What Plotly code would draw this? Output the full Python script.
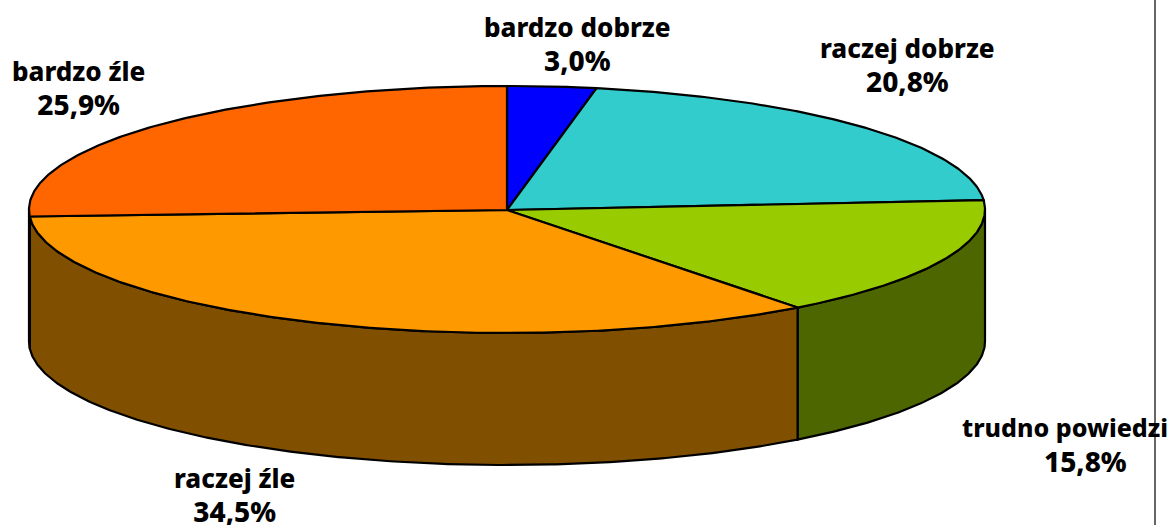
import math
import plotly.graph_objects as go

# data
categories = ["bardzo dobrze", "raczej dobrze", "trudno powiedzi", "raczej źle", "bardzo źle"]
values = [3.0, 20.8, 15.8, 34.5, 25.9]
top_colors = ["#0000FF", "#33CCCC", "#99CC00", "#FF9900", "#FF6600"]
side_colors = ["#000080", "#1A6666", "#4D6600", "#804F00", "#803300"]

# label block centres (x, y); None means name and value are placed separately
label_pos = [(577, 43.5), (907, 64.5), None, (234.5, 495), (78.5, 88)]
split_name_pos = (960, 427)
split_value_pos = (1085, 461)

# pie geometry (in pixels of the axes)
CX, CY, A, B, DEPTH = 507, 209.5, 478, 123.5, 132
W, H = 1172, 525
FRAME_X = 1155


def pt(deg, dy=0.0):
    r = math.radians(deg)
    return CX + A * math.sin(r), CY - B * math.cos(r) + dy


def arc(a0, a1, dy=0.0):
    n = max(2, int(abs(a1 - a0) * 2) + 1)
    return [pt(a0 + (a1 - a0) * i / (n - 1), dy) for i in range(n)]


fig = go.Figure()


def poly(points, fill):
    xs = [p[0] for p in points] + [points[0][0]]
    ys = [p[1] for p in points] + [points[0][1]]
    fig.add_trace(go.Scatter(x=xs, y=ys, mode="lines", fill="toself", fillcolor=fill,
                             line=dict(color="#000000", width=2.2), hoverinfo="skip", showlegend=False))


total = sum(values)
spans = []
start = 0.0
for v in values:
    end = start + v / total * 360
    spans.append((start, end))
    start = end

# visible outer wall: only the front half of the ellipse (90..270 degrees)
for (a0, a1), col in zip(spans, side_colors):
    lo, hi = max(a0, 90), min(a1, 270)
    if hi > lo:
        poly(arc(lo, hi) + arc(hi, lo, DEPTH), col)

# top faces
for (a0, a1), col in zip(spans, top_colors):
    poly([(CX, CY + 0.5)] + arc(a0, a1), col)


def font(size):
    return dict(family="Noto Sans", size=size, color="#000000", weight=800)


annotations = []
for name, v, pos in zip(categories, values, label_pos):
    pct = f"{v:.1f}%".replace(".", ",")
    if pos is None:
        annotations.append(dict(x=split_name_pos[0], y=split_name_pos[1], text=name, xanchor="left",
                                yanchor="middle", showarrow=False, xref="x", yref="y", font=font(25)))
        annotations.append(dict(x=split_value_pos[0], y=split_value_pos[1], text=pct, xanchor="center",
                                yanchor="middle", showarrow=False, xref="x", yref="y", font=font(28)))
    else:
        annotations.append(dict(x=pos[0], y=pos[1], text=f'{name}<br><span style="font-size:28px">{pct}</span>',
                                xanchor="center", yanchor="middle", align="center", showarrow=False,
                                xref="x", yref="y", font=font(26)))

fig.update_layout(
    width=W, height=H, margin=dict(l=0, r=0, t=0, b=0), autosize=False,
    paper_bgcolor="#FFFFFF", plot_bgcolor="#FFFFFF", showlegend=False,
    xaxis=dict(range=[0, W], visible=False, fixedrange=True),
    yaxis=dict(range=[H, 0], visible=False, fixedrange=True),
    annotations=annotations,
    shapes=[dict(type="line", x0=FRAME_X, x1=FRAME_X, y0=0, y1=H, xref="x", yref="y",
                 line=dict(color="#333333", width=1.5), layer="below")],
)
fig.write_html("out.html", config={"displayModeBar": False},
               post_script="document.body.style.margin='0';document.documentElement.style.overflow='hidden';")
